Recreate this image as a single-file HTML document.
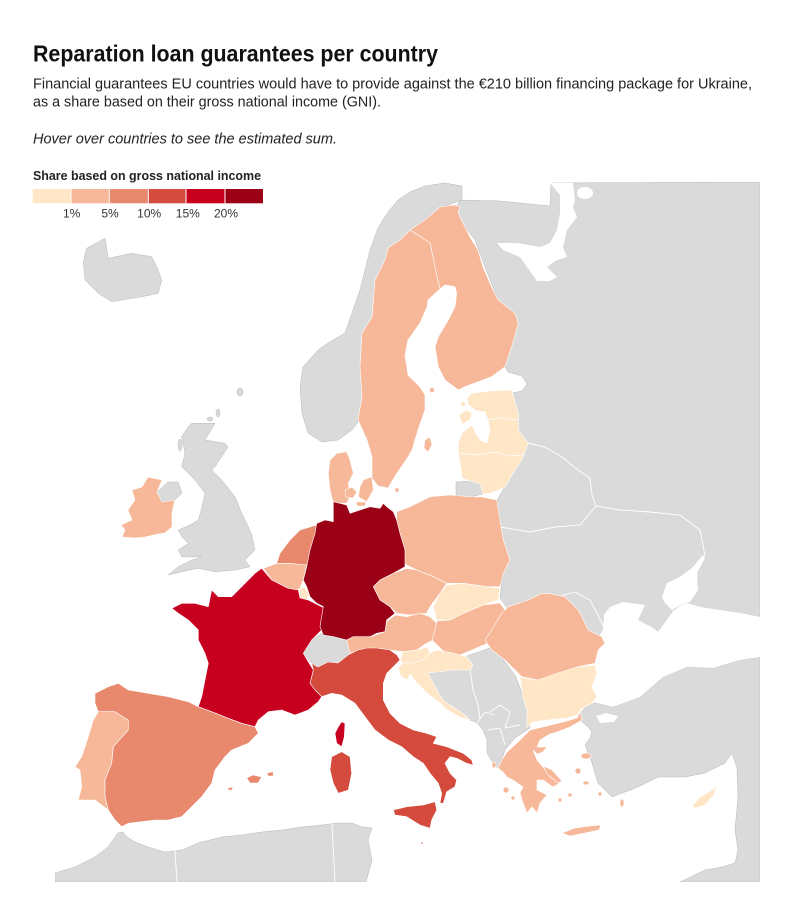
<!DOCTYPE html>
<html><head><meta charset="utf-8"><style>html,body{margin:0;padding:0;background:#fff}svg{display:block}</style></head>
<body>
<svg width="803" height="906" viewBox="0 0 803 906" xmlns="http://www.w3.org/2000/svg" font-family="'Liberation Sans', sans-serif">
<rect width="803" height="906" fill="#fff"/>
<text x="33" y="61.5" font-size="23" font-weight="bold" fill="#111" textLength="405" lengthAdjust="spacingAndGlyphs">Reparation loan guarantees per country</text>
<text x="33" y="88.3" font-size="14.5" fill="#222" textLength="719" lengthAdjust="spacingAndGlyphs">Financial guarantees EU countries would have to provide against the €210 billion financing package for Ukraine,</text>
<text x="33" y="106.7" font-size="14.5" fill="#222" textLength="348" lengthAdjust="spacingAndGlyphs">as a share based on their gross national income (GNI).</text>
<text x="33" y="143.3" font-size="14.5" font-style="italic" fill="#222" textLength="304" lengthAdjust="spacingAndGlyphs">Hover over countries to see the estimated sum.</text>
<text x="33" y="180" font-size="12.5" font-weight="bold" fill="#222" textLength="228" lengthAdjust="spacingAndGlyphs">Share based on gross national income</text>
<g>
<rect x="32.7" y="189" width="38.3" height="14.3" fill="#fee6c6"/>
<rect x="71" y="189" width="38.3" height="14.3" fill="#f6b899"/>
<rect x="109.3" y="189" width="39" height="14.3" fill="#e8886d"/>
<rect x="148.3" y="189" width="37.7" height="14.3" fill="#d44a3c"/>
<rect x="186" y="189" width="39" height="14.3" fill="#c8001f"/>
<rect x="225" y="189" width="38" height="14.3" fill="#9a0016"/>
<g stroke="#fff" stroke-width="1"><line x1="71" y1="189" x2="71" y2="203.3"/><line x1="109.3" y1="189" x2="109.3" y2="203.3"/><line x1="148.3" y1="189" x2="148.3" y2="203.3"/><line x1="186" y1="189" x2="186" y2="203.3"/><line x1="225" y1="189" x2="225" y2="203.3"/></g>
</g>
<g font-size="12" fill="#333" text-anchor="middle">
<text x="71.7" y="217.3">1%</text><text x="110" y="217.3">5%</text><text x="149.2" y="217.3">10%</text><text x="187.8" y="217.3">15%</text><text x="226" y="217.3">20%</text>
</g>
<defs><clipPath id="c"><rect x="55" y="182" width="705" height="700"/></clipPath></defs>
<g clip-path="url(#c)">
<!-- gray land -->
<g fill="#dadada" stroke="#b8b8b8" stroke-width="0.5">
<path d="M460,200 L500,201 L530,204 L550,206 L551,183 L760,182 L760,665 L600,665 L540,640 L510,612 L500,598 L503,573 L510,560 L503,540 L500,520 L497,500 L515,470 L521,460 L528,443 L518,430 L518,413 L512,393 L522,391 L527,384 L522,376 L508,372 L505,367 L511,347 L518,323 L498,300 L485,267 L475,240 L462,223 L455,210 Z"/>
<path d="M760,657 L740,660 L713,668 L687,667 L663,677 L640,697 L613,707 L600,704 L596,702 L585,708 L578,715 L582,722 L588,727 L592,732 L590,738 L585,745 L592,763 L598,783 L612,797 L638,787 L658,777 L685,777 L705,773 L725,763 L732,753 L737,768 L738,797 L735,830 L738,850 L735,863 L722,867 L705,870 L680,882 L760,882 Z"/>
<path d="M470,720 L460,716 L447,709 L440,702 L427,692 L420,682 L430,672 L445,665 L470,655 L490,648 L500,655 L515,675 L525,700 L530,728 L515,738 L505,750 L500,765 L498,768 L493,763 L487,753 L487,740 L483,730 L477,723 Z"/>
<path d="M55,873 L75,867 L95,857 L108,847 L118,833 L123,832 L127,837 L135,842 L148,847 L165,852 L182,850 L198,843 L222,837 L242,835 L262,832 L282,830 L302,827 L322,825 L338,823 L352,823 L362,827 L372,828 L368,840 L372,860 L366,882 L55,882 Z"/>
<path d="M462,186 L445,183 L425,186 L410,192 L398,200 L388,212 L378,228 L370,250 L365,270 L360,290 L352,313 L345,333 L328,343 L318,350 L303,367 L300,387 L302,413 L308,433 L322,442 L338,440 L352,430 L358,422 L365,400 L370,330 L380,280 L400,240 L412,229 L440,208 L462,200 Z"/>
<path d="M86.7,248.3 L105,238.3 L108.3,258.3 L131.7,253.3 L151.7,256.7 L156.7,266.7 L161.7,280 L158.3,293.3 L141.7,296.7 L111.7,301.7 L98.3,293.3 L85,280 L83.3,261.7 Z"/>
<path d="M191.7,423.3 L215,423.3 L205,440 L225,443.3 L228,447 L215,466.7 L211.7,470 L221.7,480 L235,496.7 L241.7,513.3 L248.3,526.7 L251.7,535 L255,550 L245,560 L250,566.7 L235,570 L215,571.7 L198.3,568.3 L181.7,571.7 L168.3,575 L178.3,566.7 L191.7,560 L201.7,556.7 L190,557 L181.7,556.7 L178.3,550 L188.3,543.3 L181.7,536.7 L178.3,530 L190,525 L198.3,520 L202,507 L205,493.3 L195,480 L188.3,473.3 L181.7,466.7 L185,453.3 L181.7,436.7 L188.3,426.7 Z"/>
<path d="M157,492 L168,482 L178,482 L182,493 L175,500 L162,502 Z"/>
<path d="M303.3,653.3 L311.7,640 L321.7,633.3 L341.7,633.3 L355,640 L358.3,650 L348.3,655 L338.3,663.3 L328.3,661.7 L318.3,666.7 L311.7,663.3 Z"/>
<path d="M456,482 L470,481 L480,484 L483,494 L470,497 L456,495 Z"/>
<ellipse cx="218" cy="413" rx="2" ry="4"/><ellipse cx="210" cy="419" rx="3" ry="2"/><ellipse cx="180" cy="445" rx="2" ry="6"/><ellipse cx="240" cy="392" rx="3" ry="4"/>
</g>
<!-- white seas -->
<g fill="#fff">
<path d="M550,183 L573,183 L575,200 L573,207 L577,217 L567,230 L563,247 L567,257 L557,260 L547,267 L557,277 L550,281 L537,281 L527,267 L520,257 L503,250 L497,243 L517,243 L540,247 L550,243 L557,230 L560,213 L560,195 Z"/>
<ellipse cx="585" cy="193" rx="8" ry="6"/>
<path d="M603,630 L604,615 L610,607 L623,602 L645,605 L638,620 L653,628 L658,632 L667,620 L673,611 L680,606 L687,603 L700,607 L720,610 L740,613 L760,617 L760,657 L740,660 L713,668 L687,667 L663,677 L640,697 L613,707 L593,702 L588,690 L590,660 L597,640 Z"/>
<path d="M662,597 L667,583 L680,577 L693,567 L703,555 L705,558 L697,573 L698,590 L690,602 L683,604 L677,607 L672,610 L665,603 Z"/>
<path d="M596,716 L606,713 L618,716 L614,722 L600,723 Z"/>
</g>
<!-- internal borders in gray -->
<g fill="none" stroke="#fff" stroke-width="0.9">
<polyline points="528,443 545,447 562,457 578,470 590,478 592,495 596,506"/>
<polyline points="500,527 530,532 555,527 580,525 596,506 620,510 650,512 680,515 700,530 705,556"/>
<polyline points="560,596 575,592 590,600 598,615 605,630"/>
<polyline points="470,668 473,690 478,705 480,718"/>
<polyline points="477,723 485,712 495,715"/>
<polyline points="488,730 500,728 505,745"/>
<polyline points="490,712 500,705 510,712 505,728 520,725"/>
<polyline points="175,850 177,882"/><polyline points="332,824 335,882"/>
</g>
<!-- EU countries -->
<g stroke="#fff" stroke-width="0.6" stroke-linejoin="round">
<!-- 5% -->
<g fill="#f6b899">
<path d="M440,207 L455,205 L460,207 L458,213 L463,223 L470,237 L478,250 L483,267 L493,290 L498.3,300 L515,313.3 L518.3,323.3 L511.7,346.7 L505,366.7 L491.7,376.7 L465,386.7 L458.3,390 L445,380 L438.3,366.7 L435,346.7 L438.3,336.7 L448.3,320 L455,306.7 L456.7,293.3 L455,286.7 L445,285 L440,289 L437,277 L433,257 L430,243 L410,230 L425,220 Z"/>
<path d="M410,230 L400,240 L388,248 L385,260 L375,280 L372,317 L362,333 L360,367 L362,397 L358,420 L367,440 L372,457 L372,478 L378,486 L388,488 L397,473 L408,457 L412,450 L418,430 L425,410 L425,395 L420,387 L408,375 L405,355 L408,340 L420,323 L427,307 L428,300 L440,289 L437,277 L433,257 L430,243 Z"/>
<path d="M425,440 L430,437 L432,445 L428,452 L424,448 Z"/>
<circle cx="432" cy="390" r="2.5"/>
<path d="M330,460 L336.7,453.3 L346.7,451.7 L350,460 L353.3,473.3 L348.3,483.3 L350,496.7 L346.7,503.3 L333.3,503.3 L330,490 L328.3,473.3 Z"/>
<path d="M363.3,480 L371.7,476.7 L373.3,490 L366.7,501.7 L358.3,496.7 L360,486.7 Z"/>
<path d="M345,490 L352,487 L357,492 L353,498 L346,497 Z"/>
<path d="M356,502 L366,502 L365,506 L357,506 Z"/>
<path d="M395,488 L399,488 L399,492 L395,492 Z"/>
<path d="M148,477 L162,480 L157,492 L162,502 L175,500 L172,513 L172,527 L165,533 L158,534 L145,537 L135,538 L122,537 L125,530 L121,525 L132,520 L128,510 L135,500 L132,490 L142,487 Z"/>
<path d="M396.7,511.7 L410,506.7 L430,496.7 L450,495 L470,496.7 L482,497 L496.7,500 L500,520 L503.3,540 L510,560 L503.3,573.3 L500,586.7 L486.7,586.7 L463.3,583.3 L446.7,583.3 L433.3,576.7 L416.7,570 L403.3,563.3 L405,550 L400,533.3 L396.7,520 Z"/>
<path d="M263.3,568.3 L276.7,563.3 L290,563.3 L306.7,565 L303.3,580 L300,588 L298.3,590 L288.3,588.3 L271.7,580 Z"/>
<path d="M373.3,586.7 L380,580 L393.3,573.3 L406.7,568.3 L416.7,570 L433.3,576.7 L446.7,583.3 L440,593.3 L430,606.7 L426.7,613.3 L410,615 L396.7,613.3 L390,606.7 L380,600 Z"/>
<path d="M346.7,640 L353.3,636.7 L370,636.7 L385,631.7 L386.7,621.7 L395,615 L406.7,616.7 L420,613.3 L430,616.7 L436.7,623.3 L433.3,640 L426.7,643.3 L416.7,650 L403.3,651.7 L390,650 L376.7,648.3 L366.7,648.3 L350,653.3 L348.3,646.7 Z"/>
<path d="M436.7,621 L450,620 L463.3,613.3 L483.3,605 L500,603 L505,610 L495,627 L488,643 L472,650 L455,657 L442,650 L432,640 L435,630 Z"/>
<path d="M541.7,593.3 L548.3,593.3 L565,596.7 L578.3,610 L588.3,630 L601.7,636.7 L605,643.3 L598.3,650 L595,663.3 L578.3,666.7 L558.3,673.3 L538.3,680 L521.7,676.7 L515,670 L505,660 L491.7,650 L485,640 L491.7,630 L501.7,613.3 L508.3,606.7 L528.3,600 Z"/>
<path d="M98.3,711.7 L115,711.7 L128.3,720 L128.3,730 L113.3,746.7 L111.7,763.3 L105,780 L105,796.7 L108.3,810 L95,800 L78.3,800 L81.7,786.7 L80,770 L75,766.7 L81.7,756.7 L88.3,736.7 L93.3,720 Z"/>
<path d="M498,768 L502,760 L507,752 L520,740 L530,730 L547,726 L567,721 L577,718 L580,712 L582,720 L570,727 L557,732 L550,734 L540,740 L537,747 L547,747 L543,752 L537,754 L533,750 L537,760 L543,767 L550,777 L560,783 L553,787 L543,780 L537,780 L537,790 L547,795 L540,803 L537,813 L532,807 L527,813 L523,803 L520,793 L523,787 L513,780 L507,777 L503,772 Z"/>
<path d="M543,766 L552,770 L562,781 L558,783 L548,775 Z"/>
<path d="M562,833 L575,828 L590,826 L601,825 L599,830 L585,833 L570,836 Z"/>
<ellipse cx="586" cy="756" rx="5" ry="3"/><ellipse cx="578" cy="771" rx="3" ry="3"/><ellipse cx="586" cy="783" rx="3" ry="2"/><ellipse cx="600" cy="794" rx="2" ry="2"/><ellipse cx="622" cy="803" rx="2" ry="4"/><ellipse cx="560" cy="800" rx="2" ry="2"/><ellipse cx="570" cy="795" rx="2" ry="2"/><ellipse cx="506" cy="790" rx="3" ry="3"/><ellipse cx="513" cy="798" rx="2" ry="2"/><ellipse cx="494" cy="765" rx="2" ry="3"/>
</g>
<!-- 1% -->
<g fill="#fee6c6">
<path d="M471.7,393.3 L490,391 L511.7,390 L518.3,413.3 L518.3,430 L528.3,443.3 L521.7,460 L515,470 L505,487 L492,493 L483,494 L480,484 L470,481 L462,478 L461.7,473.3 L458.3,453.3 L458.3,443.3 L462,433 L472,425 L475,432 L480,440 L487,443 L490,430 L488,420 L485,412 L475,410 L468,405 L467,398 Z"/>
<path d="M459,415 L466,410 L472,413 L470,420 L462,424 Z"/>
<circle cx="463" cy="404" r="2.5"/>
<path d="M299,589 L305,587 L309,594 L307,600 L300,598 Z"/>
<path d="M440,593.3 L446.7,585 L463.3,583.3 L486.7,586.7 L500,588.3 L498.3,600 L483.3,605 L463.3,613.3 L450,620 L436.7,620 L433.3,606.7 Z"/>
<path d="M400,660 L403,652 L417,650 L427,647 L430,653 L423,660 L413,663 L403,663 Z"/>
<path d="M403,663 L413,663 L423,660 L430,653 L437,650 L453,653 L467,657 L473,665 L470,670 L453,670 L437,672 L428,673 L430,677 L437,690 L443,700 L453,707 L465,715 L470,720 L460,717 L447,710 L440,703 L427,693 L417,683 L410,674 L407,680 L401,676 L398,668 Z"/>
<path d="M520,677 L538,680 L558,673 L578,667 L595,665 L597,673 L592,687 L597,697 L592,703 L580,710 L577,715 L567,718 L547,720 L533,722 L527,727 L527,710 L523,697 Z"/>
<path d="M692,806 L700,797 L712,790 L717,785 L714,795 L705,805 L695,808 Z"/>
</g>
<!-- 10% -->
<g fill="#e8886d">
<path d="M276.7,563.3 L280,553.3 L290,540 L293.3,536.7 L300,530 L316.7,525 L316.7,540 L311.7,555 L306.7,565 L290,563.3 Z"/>
<path d="M95,693.3 L108.3,686.7 L118.3,683.3 L128.3,690 L148.3,693.3 L168.3,696.7 L188.3,701.7 L198.3,706.7 L211.7,711.7 L228.3,718.3 L241.7,723.3 L255,726.7 L258.3,733.3 L248.3,743.3 L231.7,750 L225,756.7 L215,770 L211.7,783.3 L201.7,796.7 L191.7,806.7 L181.7,816.7 L168.3,820 L155,820 L141.7,821.7 L128.3,823.3 L121.7,826.7 L115,820 L108.3,810 L105,796.7 L105,780 L111.7,763.3 L113.3,746.7 L128.3,730 L128.3,720 L115,711.7 L98.3,711.7 L95,703.3 Z"/>
<path d="M246.7,778 L253,775 L261.7,777 L258,783 L250,783 Z"/>
<path d="M267,773 L273,771.7 L273.3,776 L268,776 Z"/>
<path d="M228,788 L233,787 L232,790 L228,790 Z"/>
</g>
<!-- 15% -->
<g fill="#d44a3c">
<path d="M311.7,663.3 L318,667 L328,662 L338,663 L348,655 L358,650 L367,648 L377,648 L390,650 L397,655 L400,660 L396.7,663.3 L386.7,673.3 L383.3,683.3 L383.3,700 L390,713.3 L400,723.3 L413.3,730 L426.7,733.3 L436.7,736.7 L433.3,743.3 L446.7,746.7 L463.3,753.3 L471.7,760 L473.3,765 L466.7,763.3 L456.7,758.3 L450,756.7 L445,763.3 L450,773.3 L456.7,780 L455,786.7 L446.7,791.7 L443.3,803.3 L440,803.3 L441.7,793.3 L438.3,783.3 L430,773.3 L423.3,763.3 L413.3,756.7 L401.7,746.7 L388.3,740 L375,730 L365,716.7 L355,703.3 L341.7,695 L331.7,693.3 L321.7,696.7 L315,690 L310,683.3 L313.3,670 Z"/>
<path d="M393.3,810 L406.7,806.7 L423.3,805 L435,801.7 L436.7,810 L431.7,820 L430,828.3 L420,825 L406.7,816.7 L395,815 Z"/>
<path d="M331.7,756.7 L341.7,751.7 L350,756.7 L351.7,773.3 L348.3,790 L338.3,793.3 L333.3,783.3 L330,770 Z"/>
<circle cx="422" cy="843" r="1"/>
</g>
<!-- 20% -->
<g fill="#c8001f">
<path d="M261.7,568.3 L271.7,580 L288.3,588.3 L298.3,590 L300,598 L308.3,600 L321.7,606.7 L328.3,610 L323.3,623.3 L321.7,630 L311.7,640 L303.3,653.3 L308.3,661.7 L313.3,670 L310,683.3 L315,690 L321.7,696.7 L318.3,701.7 L308.3,710 L295,715 L281.7,710 L268.3,711.7 L258.3,720 L255,726.7 L241.7,723.3 L228.3,718.3 L211.7,711.7 L198.3,706.7 L201.7,696.7 L205,680 L208.3,663.3 L205,653.3 L198.3,640 L198.3,630 L188.3,620 L178.3,613.3 L171.7,608.3 L181.7,603.3 L195,603.3 L208.3,606.7 L211.7,590 L218.3,596.7 L231.7,596.7 L241.7,586.7 L255,573.3 Z"/>
<path d="M341.7,721.7 L345,723.3 L344.3,736.7 L341.7,746.7 L336.7,743.3 L335,733.3 L338.3,726.7 Z"/>
</g>
<!-- >20% -->
<g fill="#9a0016">
<path d="M333.3,501.7 L346.7,505 L350,513.3 L360,510 L370,506.7 L380,508.3 L383.3,503.3 L386.7,506.7 L393.3,511.7 L396.7,520 L400,533.3 L405,550 L405,566.7 L393.3,573.3 L380,580 L373.3,586.7 L380,600 L390,606.7 L395,613.3 L386.7,620 L385,631.7 L376.7,633.3 L370,636.7 L353.3,636.7 L346.7,640 L333.3,636.7 L323.3,635 L320,626.7 L323.3,606.7 L316.7,603.3 L310,596.7 L306.7,586.7 L303.3,580 L306.7,566.7 L310,550 L315,533.3 L316.7,523.3 L325,520 L333.3,521.7 L333.3,506.7 Z"/>
</g>
</g>
<g fill="none" stroke="#fff" stroke-width="0.8">
<polyline points="488,420 500,418 518,420"/>
<polyline points="458,453 475,455 495,452 510,456 524,455"/>
</g>
</g>
</svg>
</body></html>
